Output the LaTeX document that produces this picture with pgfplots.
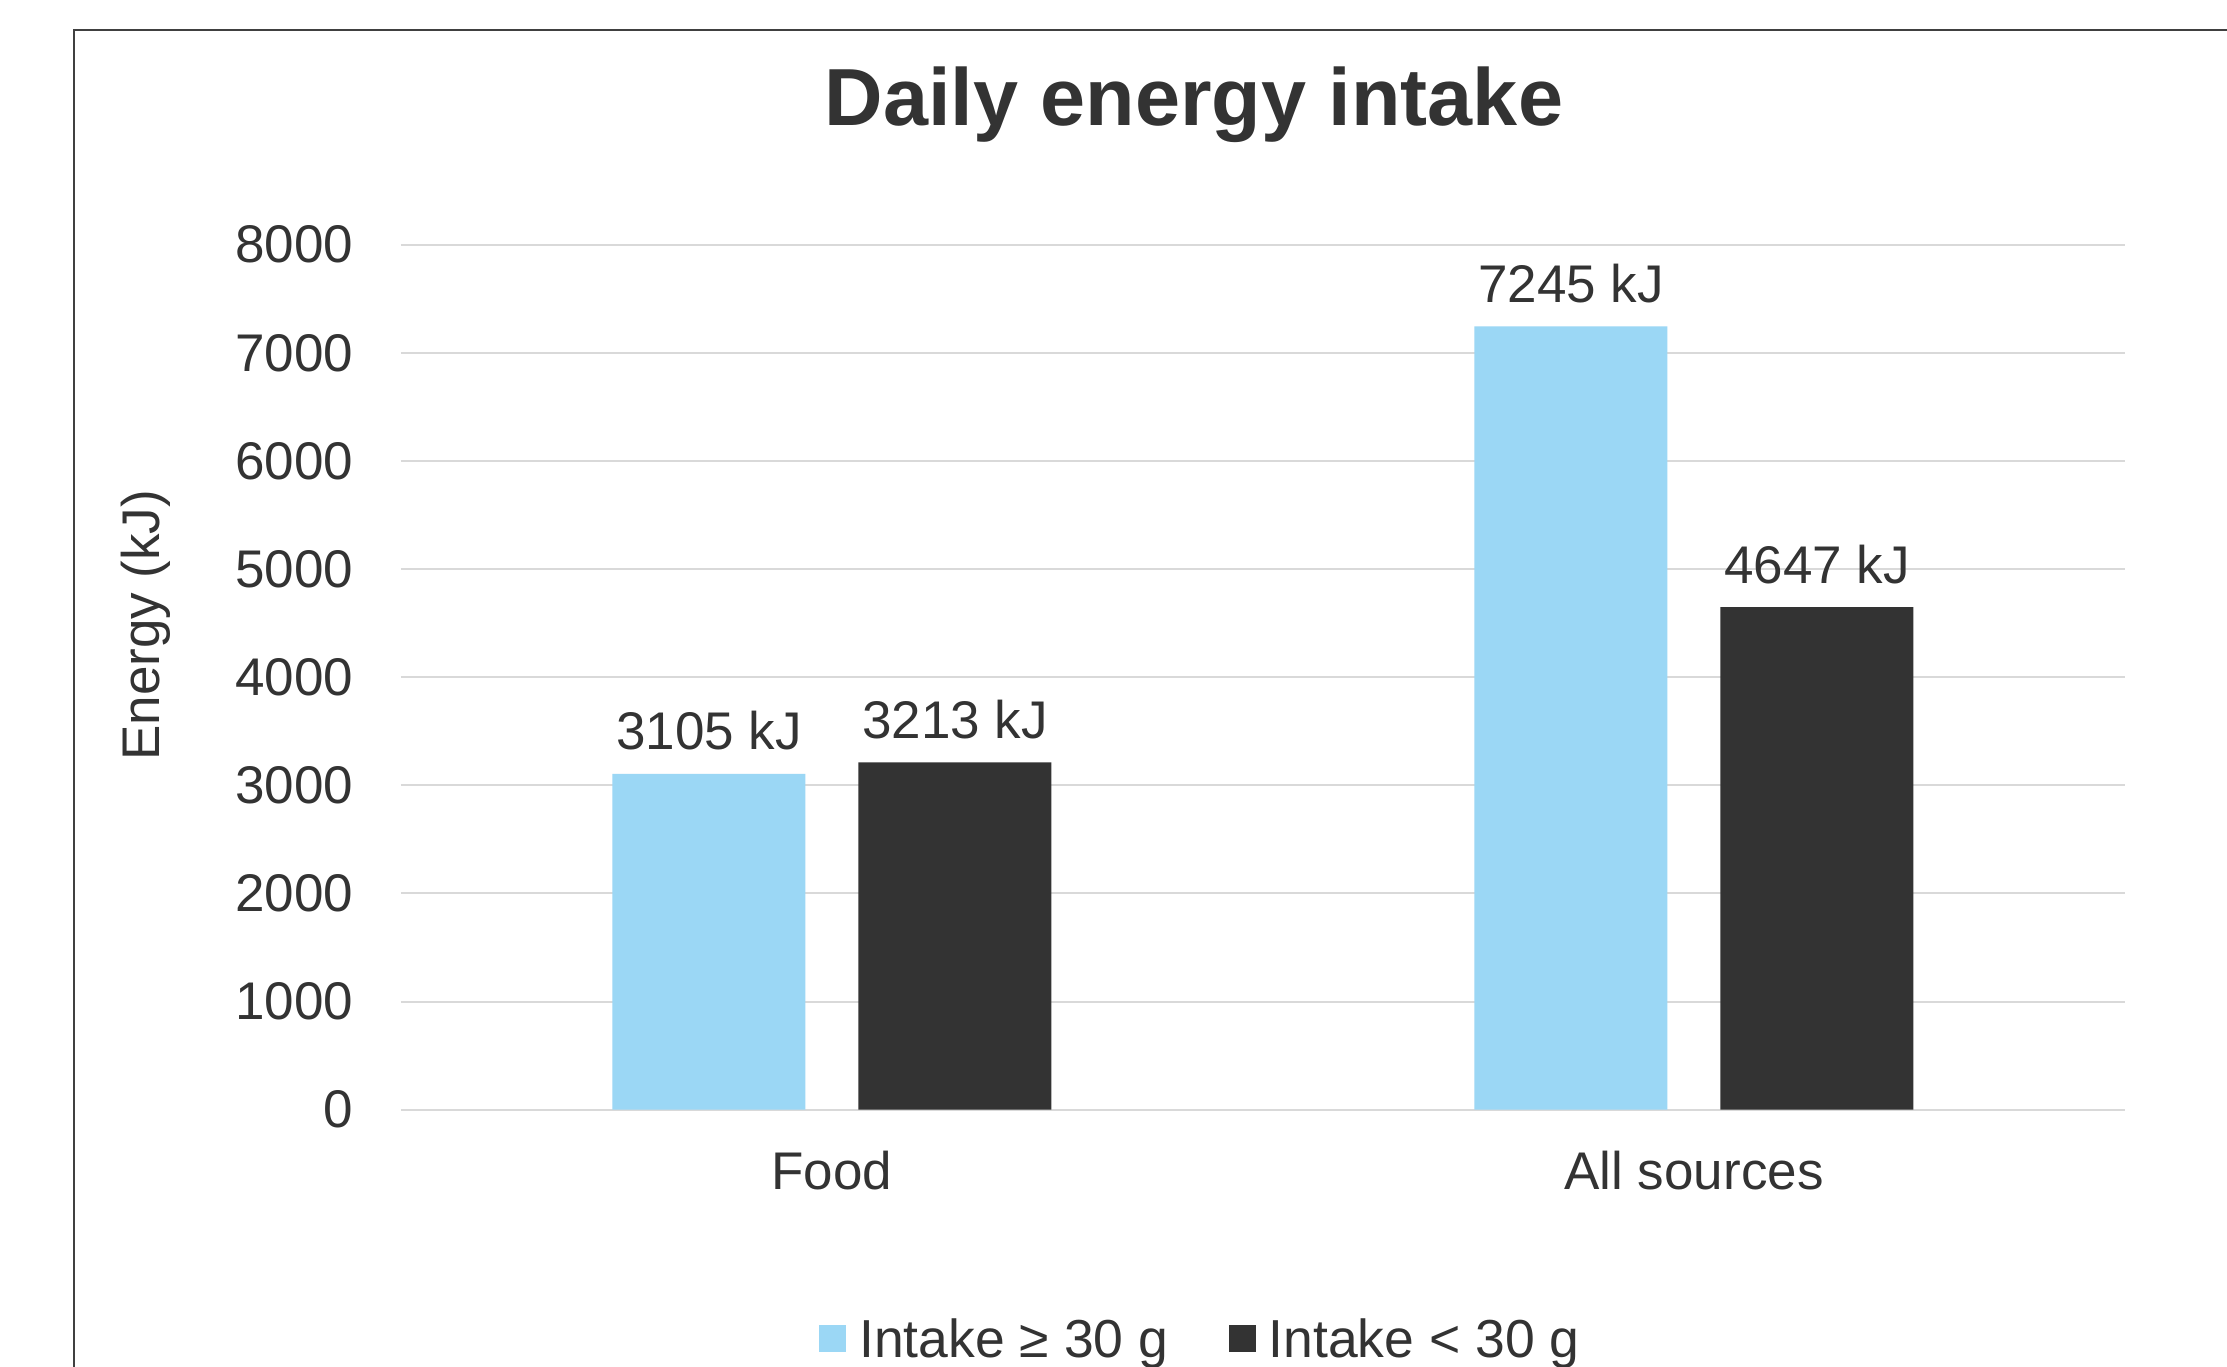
\documentclass[border=0pt]{standalone}
\usepackage{fontspec}
\setmainfont{Liberation Sans}
\usepackage{pgfplots}
\pgfplotsset{compat=1.18}
\definecolor{lightbar}{RGB}{155,215,245}
\definecolor{darkbar}{RGB}{51,51,51}
\definecolor{txt}{RGB}{51,51,51}
\definecolor{gridc}{RGB}{217,217,217}
\definecolor{framec}{RGB}{64,64,64}
\begin{document}
\begin{tikzpicture}
\useasboundingbox (0,0) rectangle (445.4pt,273.4pt);
\clip (0,0) rectangle (445.4pt,273.4pt);
\fill[white] (0,0) rectangle (445.4pt,273.4pt);
\draw[framec, line width=0.35pt] (14.8pt,-20pt) rectangle (470pt,267.4pt);
\node[anchor=base, font=\bfseries\fontsize{16.2pt}{19pt}\selectfont, text=txt] at (238.8pt,248.3pt) {Daily energy intake};
\begin{axis}[
  at={(80.2pt,51.46pt)}, anchor=south west,
  scale only axis, width=344.8pt, height=173pt,
  xmin=-0.5, xmax=1.5, ymin=0, ymax=8000,
  xtick={0,1}, xticklabels={Food, All sources},
  ytick={0,1000,...,8000},
  ymajorgrids, grid style={gridc, line width=0.4pt},
  axis line style={draw=none},
  major tick length=0pt,
  tick label style={font=\fontsize{10.6pt}{12.7pt}\selectfont, text=txt},
  yticklabel style={inner sep=0pt, xshift=-9.4pt},
  xticklabel style={inner sep=0pt, yshift=-8pt},
  /pgf/number format/assume math mode=true,
  /pgf/number format/1000 sep={},
  ylabel={Energy (kJ)},
  ylabel style={at={(axis description cs:-0.148,0.56)}, anchor=center, font=\fontsize{10.6pt}{12.7pt}\selectfont, text=txt},
  ybar, bar width=38.6pt,
  point meta=explicit symbolic,
  nodes near coords,
  every node near coord/.append style={anchor=south, inner sep=0pt, yshift=4.5pt, font=\fontsize{10.6pt}{12.7pt}\selectfont, text=txt},
  legend columns=2,
  legend style={at={(axis description cs:0.466,-0.268)}, anchor=center, draw=none, fill=none,
    font=\fontsize{10.7pt}{13pt}\selectfont, text=txt, cells={anchor=base west, inner sep=0pt},
    /tikz/every odd column/.append style={column sep=0.6pt},
    /tikz/every even column/.append style={column sep=10.1pt}},
  legend image code/.code={\fill[#1, draw=none] (0pt,1.1pt) rectangle (5.4pt,6.5pt);},
]
\addplot[fill=lightbar, draw=none, bar shift=-24.6pt] coordinates {(0,3105) [3105 kJ] (1,7245) [7245 kJ]};
\addplot[fill=darkbar, draw=none, bar shift=24.6pt] coordinates {(0,3213) [3213 kJ] (1,4647) [4647 kJ]};
\legend{Intake ≥ 30 g, Intake < 30 g}
\end{axis}
\end{tikzpicture}
\end{document}
